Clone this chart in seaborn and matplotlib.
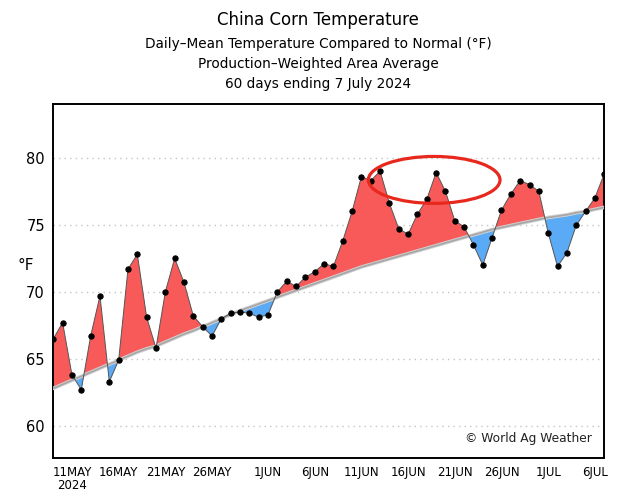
import numpy as np
import pandas as pd
import matplotlib
matplotlib.use("Agg")
import matplotlib.pyplot as plt
import matplotlib.dates as mdates
from matplotlib.patches import Ellipse
import seaborn as sns

# Daily-mean temperature (F), 9 May - 7 July 2024
start_date = "2024-05-09"
observed = [
    66.5, 67.7, 63.8, 62.7, 66.7, 69.7, 63.3, 64.9, 71.7, 72.8,
    68.1, 65.8, 70.0, 72.5, 70.7, 68.2, 67.4, 66.7, 68.0, 68.4,
    68.5, 68.4, 68.1, 68.3, 70.0, 70.8, 70.4, 71.1, 71.5, 72.1,
    71.9, 73.8, 76.0, 78.6, 78.3, 79.0, 76.6, 74.7, 74.3, 75.8,
    76.9, 78.9, 77.5, 75.3, 74.85, 73.5, 72.0, 74.05, 76.1, 77.3,
    78.3, 78.0, 77.5, 74.4, 71.9, 72.9, 74.95, 76.0, 77.0, 78.8,
]
normal = [
    62.8, 63.1, 63.4, 63.7, 64.0, 64.3, 64.6, 64.9, 65.2, 65.5,
    65.75, 65.95, 66.25, 66.55, 66.85, 67.1, 67.4, 67.7, 68.0, 68.3,
    68.6, 68.85, 69.1, 69.35, 69.6, 69.85, 70.1, 70.35, 70.6, 70.85,
    71.1, 71.35, 71.6, 71.85, 72.05, 72.25, 72.45, 72.65, 72.85, 73.05,
    73.25, 73.45, 73.65, 73.85, 74.05, 74.25, 74.45, 74.65, 74.8, 74.95,
    75.1, 75.25, 75.4, 75.55, 75.65, 75.75, 75.9, 76.0, 76.15, 76.3,
]
tick_days = ["2024-05-11", "2024-05-16", "2024-05-21", "2024-05-26",
             "2024-06-01", "2024-06-06", "2024-06-11", "2024-06-16",
             "2024-06-21", "2024-06-26", "2024-07-01", "2024-07-06"]
tick_labels = ["11MAY\n2024", "16MAY", "21MAY", "26MAY", "1JUN", "6JUN",
               "11JUN", "16JUN", "21JUN", "26JUN", "1JUL", "6JUL"]
y_ticks = [60, 65, 70, 75, 80]

# highlighted warm spell (centre date, centre temp, width in days, height in F)
ring_date = "2024-06-18 19:00"
ring_temp = 78.35
ring_w, ring_h = 14.1, 3.5

dates = pd.date_range(start_date, periods=len(observed), freq="D")
df = pd.DataFrame({"date": dates, "obs": observed, "normal": normal})

sns.set_style("white")
plt.rcParams["font.family"] = ["DejaVu Sans"]
plt.rcParams["text.color"] = "black"
plt.rcParams["xtick.color"] = "black"
plt.rcParams["ytick.color"] = "black"

fig = plt.figure(figsize=(6.36, 4.96), dpi=100)
ax = fig.add_axes([0.0838, 0.0772, 0.8662, 0.7128])

obs = df["obs"].to_numpy()
nrm = df["normal"].to_numpy()
ax.fill_between(df["date"], obs, nrm, where=obs >= nrm, interpolate=True,
                color="#f85a5a", linewidth=0, zorder=2)
ax.fill_between(df["date"], obs, nrm, where=obs <= nrm, interpolate=True,
                color="#5aaaf6", linewidth=0, zorder=2)

# normal: soft halo plus a thin grey core
sns.lineplot(data=df, x="date", y="normal", ax=ax, color="#d2d2d2",
             linewidth=2.6, zorder=3)
sns.lineplot(data=df, x="date", y="normal", ax=ax, color="#a6a6a6",
             linewidth=1.2, zorder=3)
sns.lineplot(data=df, x="date", y="obs", ax=ax, color="#555555",
             linewidth=0.7, marker="o", markersize=3.8, markerfacecolor="black",
             markeredgecolor="black", zorder=4)

ring = Ellipse((mdates.date2num(pd.Timestamp(ring_date)), ring_temp),
               ring_w, ring_h, fill=False, edgecolor="#e8281c", linewidth=2.3,
               zorder=5)
ax.add_patch(ring)

ax.set_xlim(dates[0], dates[-1])
ax.set_ylim(57.63, 84.0)
ax.set_yticks(y_ticks)
ax.set_yticklabels([str(v) for v in y_ticks], fontsize=10.5)
ax.set_xticks(pd.to_datetime(tick_days))
ax.set_xticklabels(tick_labels, fontsize=8.5, linespacing=0.95,
                   family=["Liberation Sans Narrow", "DejaVu Sans"])
ax.tick_params(axis="both", direction="out", length=4, width=1,
               color="black", pad=2)
ax.set_xlabel("")
ax.set_ylabel("")
for y in y_ticks:
    ax.axhline(y, color="#c4c4c4", linestyle=(0, (1, 3)), linewidth=1, zorder=1)
for s in ax.spines.values():
    s.set_color("black")
    s.set_linewidth(1.4)

fig.text(0.028, 1 - 266 / 496, "°F", fontsize=11, va="center", ha="left")
ax.text(0.978, 0.035, "© World Ag Weather", transform=ax.transAxes,
        ha="right", va="bottom", fontsize=8.8, color="#222222")

title_lines = ["Daily\u2013Mean Temperature Compared to Normal (°F)",
               "Production\u2013Weighted Area Average",
               "60 days ending 7 July 2024"]
fig.text(0.5, 1 - 20 / 496, "China Corn Temperature", ha="center",
         va="center", fontsize=12)
for i, line in enumerate(title_lines):
    fig.text(0.5, 1 - (44 + 20 * i) / 496, line, ha="center", va="center",
             fontsize=9.8)

fig.savefig("out.png", dpi=100)
